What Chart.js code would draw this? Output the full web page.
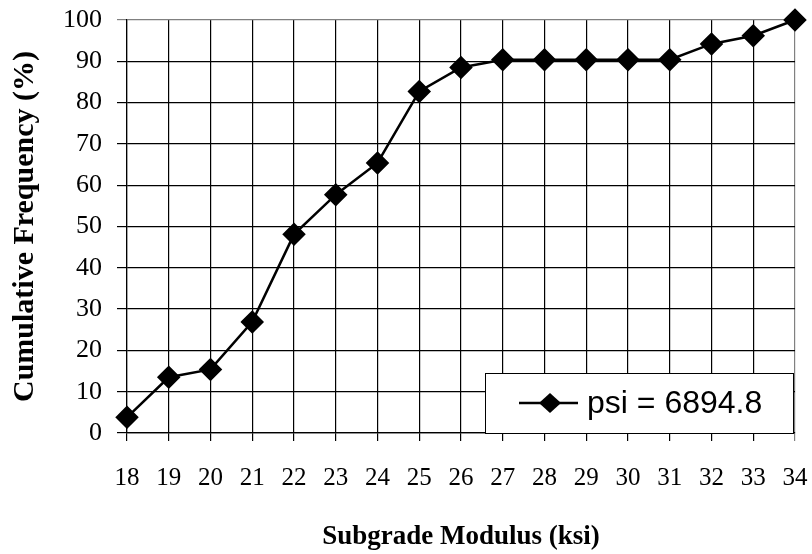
<!DOCTYPE html>
<html>
<head>
<meta charset="utf-8">
<script src="https://cdn.jsdelivr.net/npm/chart.js@4"></script>
<style>
  body { margin: 0; background: #fff; }
</style>
</head>
<body>
<canvas id="cdf" width="812" height="554"></canvas>
<script>
// Subgrade modulus bins (ksi) and cumulative frequency (%)
const modulusKsi = ["18", "19", "20", "21", "22", "23", "24", "25", "26",
                    "27", "28", "29", "30", "31", "32", "33", "34"];
const cumFreq = [3.8, 13.5, 15.4, 26.9, 48.1, 57.7, 65.4, 82.7, 88.5,
                 90.4, 90.4, 90.4, 90.4, 90.4, 94.2, 96.2, 100];
const seriesLabel = "psi = 6894.8";
const yTicks = [0, 10, 20, 30, 40, 50, 60, 70, 80, 90, 100];

const serif = "'Liberation Serif', 'Times New Roman', serif";

// Excel-style legend box in the lower right of the plot area
const boxLegend = {
    id: "boxLegend",
    afterDraw(chart) {
        const ctx = chart.ctx;
        const area = chart.chartArea;
        const w = 308, h = 60;
        const x = area.right - w - 2, y = area.bottom - h;
        ctx.save();
        ctx.fillStyle = "#fff";
        ctx.fillRect(x, y, w, h);
        ctx.strokeStyle = "#000";
        ctx.lineWidth = 1;
        ctx.strokeRect(x + 0.5, y + 0.5, w, h);
        const cy = y + h / 2;
        ctx.lineWidth = 2.5;
        ctx.beginPath();
        ctx.moveTo(x + 34, cy);
        ctx.lineTo(x + 93, cy);
        ctx.stroke();
        ctx.fillStyle = "#000";
        ctx.beginPath();
        ctx.moveTo(x + 65, cy - 10);
        ctx.lineTo(x + 76, cy);
        ctx.lineTo(x + 65, cy + 10);
        ctx.lineTo(x + 54, cy);
        ctx.closePath();
        ctx.fill();
        ctx.font = "32px 'Liberation Sans', Arial, sans-serif";
        ctx.textBaseline = "middle";
        ctx.fillText(seriesLabel, x + 102, cy + 1);
        ctx.restore();
    }
};

// drop the label overflow padding, the layout padding sets the plot area
function noOverflow(axis) {
    axis.paddingLeft = 0;
    axis.paddingRight = 0;
    axis.paddingTop = 0;
    axis.paddingBottom = 0;
}

const ctx = document.getElementById("cdf").getContext("2d");
new Chart(ctx, {
    type: "line",
    data: {
        labels: modulusKsi,
        datasets: [{
            label: seriesLabel,
            data: cumFreq,
            borderColor: "#000",
            backgroundColor: "#000",
            borderWidth: 2.5,
            pointStyle: "rectRot",
            pointRadius: 10,
            pointHoverRadius: 10,
            tension: 0,
            clip: false
        }]
    },
    options: {
        responsive: false,
        animation: false,
        layout: { autoPadding: false, padding: { top: 20, right: 17, left: 0, bottom: 0 } },
        plugins: {
            legend: { display: false },
            tooltip: { enabled: false }
        },
        scales: {
            x: {
                offset: false,
                afterFit: (axis) => { axis.height = 121; noOverflow(axis); },
                grid: {
                    color: (c) => c.index === modulusKsi.length - 1 ? "#808080" : "#000",
                    lineWidth: 1.2,
                    tickLength: 8
                },
                border: { color: "#000", width: 1.2 },
                ticks: {
                    color: "#000",
                    padding: 22,
                    maxRotation: 0,
                    font: { family: serif, size: 25 }
                },
                title: {
                    display: true,
                    text: "Subgrade Modulus (ksi)",
                    color: "#000",
                    padding: { top: 0, bottom: 1 },
                    font: { family: serif, size: 27, weight: "bold" }
                }
            },
            y: {
                min: 0,
                max: 100,
                afterFit: (axis) => { axis.width = 127; noOverflow(axis); },
                afterBuildTicks: (axis) => { axis.ticks = yTicks.map(v => ({ value: v })); },
                grid: {
                    color: (c) => c.tick && c.tick.value === 100 ? "#808080" : "#000",
                    lineWidth: 1.2,
                    tickLength: 10
                },
                border: { color: "#000", width: 1.2 },
                ticks: {
                    color: "#000",
                    padding: 15,
                    font: { family: serif, size: 26 }
                },
                title: {
                    display: true,
                    text: "Cumulative Frequency (%)",
                    color: "#000",
                    padding: { top: 7, bottom: 0 },
                    font: { family: serif, size: 30, weight: "bold" }
                }
            }
        }
    },
    plugins: [boxLegend]
});
</script>
</body>
</html>
